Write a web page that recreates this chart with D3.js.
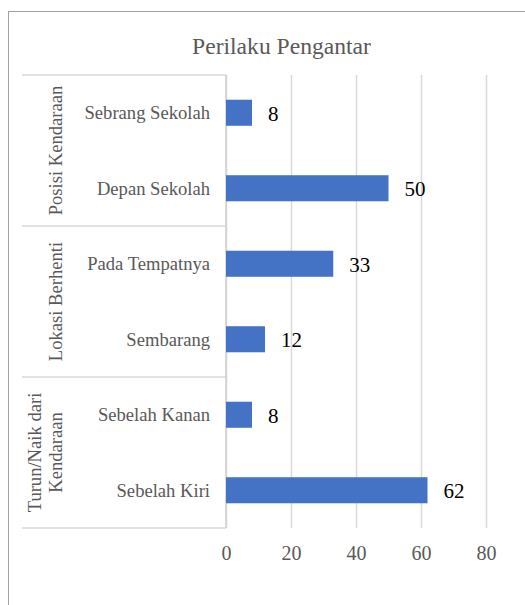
<!DOCTYPE html>
<html>
<head>
<meta charset="utf-8">
<script src="https://cdn.jsdelivr.net/npm/d3@7/dist/d3.min.js"></script>
<style>
  html, body { margin: 0; padding: 0; background: #fff; }
</style>
</head>
<body>
<svg id="chart" width="525" height="605"></svg>
<script>
const title = "Perilaku Pengantar";
const groups = ["Posisi Kendaraan", "Lokasi Berhenti", "Turun/Naik dari Kendaraan"];
const groupLines = [["Posisi Kendaraan"], ["Lokasi Berhenti"], ["Turun/Naik dari", "Kendaraan"]];
const categories = ["Sebrang Sekolah", "Depan Sekolah", "Pada Tempatnya", "Sembarang", "Sebelah Kanan", "Sebelah Kiri"];
const categoryGroup = [0, 0, 1, 1, 2, 2];
const values = [8, 50, 33, 12, 8, 62];
const tickValues = [0, 20, 40, 60, 80];

const FONT = "Liberation Serif";
const svg = d3.select("#chart");
const plot = { left: 226, right: 486, top: 75, bottom: 528 };
const tableLeft = 22;

// outer chart border (right/bottom run off the picture)
svg.append("rect")
  .attr("x", 8.5).attr("y", 11.5)
  .attr("width", 600).attr("height", 700)
  .attr("fill", "none").attr("stroke", "#a0a0a0").attr("stroke-width", 1);

// title
svg.append("text")
  .attr("x", 281.5).attr("y", 54)
  .attr("text-anchor", "middle")
  .attr("fill", "#595959")
  .style("font-family", FONT)
  .style("font-size", "23.6px")
  .text(title);

const x = d3.scaleLinear().domain([0, 80]).range([plot.left, plot.right]);
const y = d3.scaleBand().domain(categories).range([plot.top, plot.bottom])
  .paddingInner(0.655).paddingOuter(0.3275);
const yg = d3.scaleBand().domain(groups).range([plot.top, plot.bottom]);

// gridlines
const grid = svg.append("g")
  .attr("transform", `translate(0,${plot.bottom})`)
  .call(d3.axisBottom(x).tickValues(tickValues).tickSize(-(plot.bottom - plot.top)).tickFormat(""));
grid.select(".domain").remove();
grid.selectAll(".tick line").attr("stroke", "#d9d9d9").attr("stroke-width", 1.5);

// tick labels
const xa = svg.append("g")
  .attr("transform", `translate(0,${plot.bottom})`)
  .call(d3.axisBottom(x).tickValues(tickValues).tickSize(0).tickPadding(17.8));
xa.select(".domain").remove();
xa.selectAll("text")
  .attr("fill", "#595959")
  .style("font-family", FONT)
  .style("font-size", "20px");

// category table lines
const tbl = svg.append("g").attr("stroke", "#d9d9d9").attr("stroke-width", 1.5);
const bounds = [plot.top].concat(groups.map(g => yg(g) + yg.bandwidth()));
tbl.selectAll("line.h").data(bounds).join("line")
  .attr("class", "h")
  .attr("x1", tableLeft).attr("x2", plot.left)
  .attr("y1", d => d).attr("y2", d => d);
tbl.append("line")
  .attr("x1", plot.left).attr("x2", plot.left)
  .attr("y1", plot.top).attr("y2", plot.bottom)
  .attr("stroke", "#d0d0d0");

// bars
svg.append("g").selectAll("rect").data(categories).join("rect")
  .attr("x", x(0))
  .attr("y", d => y(d))
  .attr("width", (d, i) => x(values[i]) - x(0))
  .attr("height", y.bandwidth())
  .attr("fill", "#4472C4");

// value labels
svg.append("g").selectAll("text").data(categories).join("text")
  .attr("x", (d, i) => x(values[i]) + 16)
  .attr("y", d => y(d) + y.bandwidth() / 2 + 8)
  .attr("fill", "#000")
  .style("font-family", FONT)
  .style("font-size", "21px")
  .text((d, i) => values[i]);

// category labels
svg.append("g").selectAll("text").data(categories).join("text")
  .attr("x", 210)
  .attr("y", d => y(d) + y.bandwidth() / 2 + 6.5)
  .attr("text-anchor", "end")
  .attr("fill", "#595959")
  .style("font-family", FONT)
  .style("font-size", "18.6px")
  .text(d => d);

// group labels (rotated)
groups.forEach((g, gi) => {
  const cy = yg(g) + yg.bandwidth() / 2;
  const lines = groupLines[gi];
  lines.forEach((ln, li) => {
    const bx = 62 - (lines.length - 1 - li) * 21;
    svg.append("text")
      .attr("transform", `translate(${bx},${cy}) rotate(-90)`)
      .attr("text-anchor", "middle")
      .attr("fill", "#595959")
      .style("font-family", FONT)
      .style("font-size", "18.6px")
      .text(ln);
  });
});
</script>
</body>
</html>
